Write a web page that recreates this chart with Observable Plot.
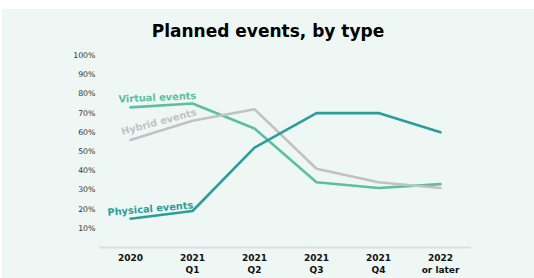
<!DOCTYPE html>
<html>
<head>
<meta charset="utf-8">
<script src="https://cdn.jsdelivr.net/npm/d3@7"></script>
<script src="https://cdn.jsdelivr.net/npm/@observablehq/plot@0.6"></script>
<style>
  html, body { margin: 0; padding: 0; background: #fff; }
  #panel { position: absolute; left: 2px; top: 9px; width: 532px; height: 269px; background: #eef7f4; font-family: "DejaVu Sans", Verdana, sans-serif; }
  #title { position: absolute; left: 0; width: 532px; top: 12px; text-align: center; font-weight: bold; font-size: 17px; color: #000; line-height: 20px; }
  #chart { position: absolute; left: 0; top: 31px; }
  #chart svg { background: transparent; overflow: visible; }
</style>
</head>
<body>
<div id="panel">
  <div id="title">Planned events, by type</div>
  <div id="chart"></div>
</div>
<script>
const periods = ["2020", "2021 Q1", "2021 Q2", "2021 Q3", "2021 Q4", "2022 or later"];
const periodLabels = ["2020", "2021\nQ1", "2021\nQ2", "2021\nQ3", "2021\nQ4", "2022\nor later"];
const seriesNames = ["Virtual events", "Hybrid events", "Physical events"];
const virtualValues = [73, 75, 62, 34, 31, 33];
const hybridValues = [56, 66, 72, 41, 34, 31];
const physicalValues = [15, 19, 52, 70, 70, 60];
const yTicks = [10, 20, 30, 40, 50, 60, 70, 80, 90, 100];
const colors = ["#5cbf9e", "#c2c2c2", "#2b9e9c"];

const seriesValues = [virtualValues, hybridValues, physicalValues];
const data = seriesNames.flatMap((s, i) => periods.map((p, j) => ({series: s, period: p, value: seriesValues[i][j]})));
const firstPoints = data.filter(d => d.period === periods[0]);

const labelStyle = {
  "Virtual events": {dx: -12, dy: -8, rotate: -2.5},
  "Hybrid events": {dx: -9, dy: -8, rotate: -15},
  "Physical events": {dx: -23, dy: -6, rotate: -5}
};

const plot = Plot.plot({
  width: 532,
  height: 238,
  marginTop: 15,
  marginBottom: 31,
  marginLeft: 97,
  marginRight: 63,
  style: {background: "transparent", fontFamily: "DejaVu Sans, Verdana, sans-serif"},
  x: {type: "point", domain: periods, padding: 0.5},
  y: {domain: [0, 100]},
  color: {domain: seriesNames, range: colors},
  marks: [
    Plot.ruleY([0], {stroke: "#dcdfde", strokeWidth: 2}),
    Plot.axisY({ticks: yTicks, tickSize: 0, tickPadding: 4, tickFormat: d => d + "%", fontSize: 7.8, fill: "#333", label: null}),
    Plot.axisX({tickSize: 0, tickPadding: 5, tickFormat: d => periodLabels[periods.indexOf(d)], fontSize: 9, fontWeight: "bold", fill: "#111", lineHeight: 1.3, label: null}),
    Plot.line(data, {x: "period", y: "value", z: "series", stroke: "series", strokeWidth: 2.6}),
    ...firstPoints.map(d => Plot.text([d], {
      x: "period", y: "value", text: "series", fill: colors[seriesNames.indexOf(d.series)],
      textAnchor: "start", lineAnchor: "middle", fontWeight: "bold", fontSize: 9.8,
      dx: labelStyle[d.series].dx, dy: labelStyle[d.series].dy, rotate: labelStyle[d.series].rotate
    }))
  ]
});
document.getElementById("chart").appendChild(plot);
</script>
</body>
</html>
